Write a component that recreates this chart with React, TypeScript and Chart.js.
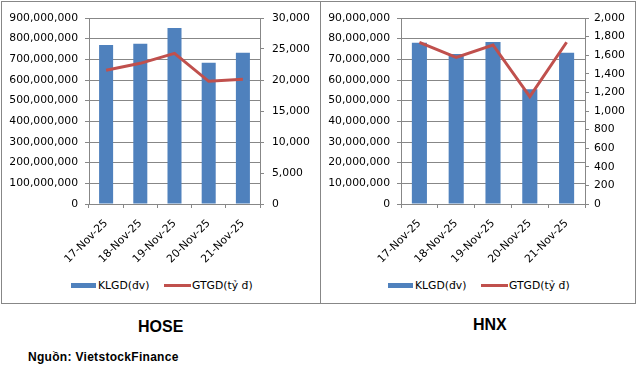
import React, { useEffect, useRef } from "react";
import { Chart, registerables } from "chart.js";

Chart.register(...registerables);

const categories = ["17-Nov-25", "18-Nov-25", "19-Nov-25", "20-Nov-25", "21-Nov-25"];

const hoseVolume = [769000000, 776000000, 852000000, 684000000, 732000000];
const hoseValue = [21560, 22690, 24300, 19790, 20110];

const hnxVolume = [78000000, 72600000, 78400000, 55500000, 73200000];
const hnxValue = [1739, 1577, 1710, 1154, 1739];

const hoseVolumeTicks = [0, 900000000, 100000000]; // min, max, step
const hoseValueTicks = [0, 30000, 5000];
const hnxVolumeTicks = [0, 90000000, 10000000];
const hnxValueTicks = [0, 2000, 200];

const volumeLabel = "KLGD(đv)";
const valueLabel = "GTGD(tỷ đ)";
const sourceText = "Nguồn: VietstockFinance";

const BAR = "#4F81BD";
const LINE = "#C0504D";
const GRID = "#878787";
const FONT = "DejaVu Sans";
const TICK_FONT = { family: FONT, size: 10.8 };

type PanelProps = {
  canvasLeft: number;
  canvasWidth: number;
  leftAxisWidth: number;
  rightAxisWidth: number;
  rightPad: number;
  volume: number[];
  value: number[];
  volTicks: number[];
  valTicks: number[];
};

const fmt = (v: number | string) => Number(v).toLocaleString("en-US");

function Panel(p: PanelProps) {
  const ref = useRef<HTMLCanvasElement | null>(null);
  useEffect(() => {
    if (!ref.current) return;
    const chart = new Chart(ref.current, {
      type: "bar",
      data: {
        labels: categories,
        datasets: [
          {
            type: "line",
            label: valueLabel,
            data: p.value,
            yAxisID: "y1",
            borderColor: LINE,
            backgroundColor: LINE,
            borderWidth: 3,
            pointRadius: 0,
            tension: 0,
            order: 0,
          } as any,
          {
            type: "bar",
            label: volumeLabel,
            data: p.volume,
            yAxisID: "y",
            backgroundColor: BAR,
            categoryPercentage: 1,
            barPercentage: 0.41,
            order: 1,
          } as any,
        ],
      },
      options: {
        animation: false,
        responsive: false,
        maintainAspectRatio: false,
        layout: { padding: { top: 16, left: 0, right: 0, bottom: 0 } },
        plugins: { legend: { display: false }, tooltip: { enabled: false } },
        scales: {
          x: {
            grid: { offset: true, drawOnChartArea: false, drawTicks: true, tickLength: 4, color: GRID },
            border: { color: GRID },
            ticks: { minRotation: 45, maxRotation: 45, autoSkip: false, font: TICK_FONT, color: "#000", padding: 9 },
            afterFit: (s: any) => {
              s.height = 68;
            },
          },
          y: {
            position: "left",
            min: p.volTicks[0],
            max: p.volTicks[1],
            ticks: { stepSize: p.volTicks[2], font: TICK_FONT, color: "#000", padding: 7, callback: (v: any) => fmt(v) },
            grid: { color: GRID, tickLength: 4 },
            border: { color: GRID },
            afterFit: (s: any) => {
              s.width = p.leftAxisWidth;
            },
          },
          y1: {
            position: "right",
            min: p.valTicks[0],
            max: p.valTicks[1],
            ticks: { stepSize: p.valTicks[2], font: TICK_FONT, color: "#000", padding: p.rightPad, callback: (v: any) => fmt(v) },
            grid: { drawOnChartArea: false, color: GRID, tickLength: 4 },
            border: { color: GRID },
            afterFit: (s: any) => {
              s.width = p.rightAxisWidth;
            },
          },
        },
      } as any,
    });
    return () => chart.destroy();
  }, []);
  return (
    <canvas
      ref={ref}
      width={p.canvasWidth}
      height={270}
      style={{ position: "absolute", left: p.canvasLeft, top: 2, width: p.canvasWidth, height: 270 }}
    />
  );
}

function Legend({ left }: { left: number }) {
  const text: React.CSSProperties = {
    position: "absolute",
    top: 279.5,
    fontFamily: FONT,
    fontSize: 10.8,
    lineHeight: "12px",
    color: "#000",
    whiteSpace: "pre",
  };
  return (
    <>
      <div style={{ position: "absolute", left: left, top: 283, width: 25, height: 5, background: BAR }} />
      <span style={{ ...text, left: left + 27 }}>{volumeLabel}</span>
      <div style={{ position: "absolute", left: left + 93, top: 284, width: 27, height: 2.5, background: LINE }} />
      <span style={{ ...text, left: left + 121 }}>{valueLabel}</span>
    </>
  );
}

export default function App() {
  const title: React.CSSProperties = {
    position: "absolute",
    fontFamily: "Liberation Sans",
    fontWeight: "bold",
    fontSize: 16,
    lineHeight: "16px",
    color: "#000",
  };
  return (
    <div style={{ position: "absolute", left: 0, top: 0, width: 639, height: 373, background: "#fff", overflow: "hidden" }}>
      <div style={{ position: "absolute", left: 1, top: 1, width: 320, height: 303, boxSizing: "border-box", border: `1px solid ${GRID}` }} />
      <div style={{ position: "absolute", left: 320, top: 1, width: 316, height: 303, boxSizing: "border-box", border: `1px solid ${GRID}` }} />
      <Panel
        canvasLeft={2}
        canvasWidth={316}
        leftAxisWidth={87}
        rightAxisWidth={58}
        rightPad={8}
        volume={hoseVolume}
        value={hoseValue}
        volTicks={hoseVolumeTicks}
        valTicks={hoseValueTicks}
      />
      <Panel
        canvasLeft={322}
        canvasWidth={312}
        leftAxisWidth={79}
        rightAxisWidth={49}
        rightPad={5}
        volume={hnxVolume}
        value={hnxValue}
        volTicks={hnxVolumeTicks}
        valTicks={hnxValueTicks}
      />
      <Legend left={71} />
      <Legend left={388} />
      <div style={{ ...title, left: 138, top: 319 }}>HOSE</div>
      <div style={{ ...title, left: 473, top: 316.5 }}>HNX</div>
      <div
        style={{
          position: "absolute",
          left: 28,
          top: 351,
          fontFamily: "Liberation Sans",
          fontWeight: "bold",
          fontSize: 12,
          lineHeight: "12px",
          letterSpacing: 0.3,
          color: "#000",
          whiteSpace: "pre",
        }}
      >
        {sourceText}
      </div>
    </div>
  );
}
